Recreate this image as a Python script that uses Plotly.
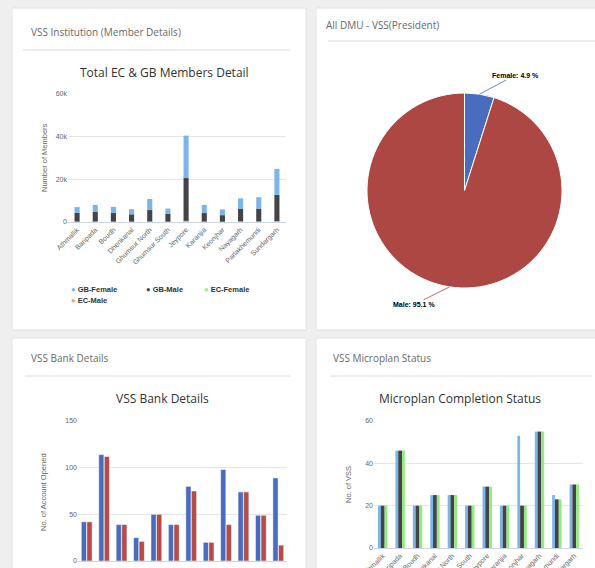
import numpy as np
import plotly.graph_objects as go

W, H = 595, 568

# ---------------- data ----------------
dmus = ["Athmallik", "Baripada", "Boudh", "Dhenkanal", "Ghumsur North", "Ghumsur South",
        "Jeypore", "Karanjia", "Keonjhar", "Nayagarh", "Parlakhemundi", "Sundargarh"]

# Total EC & GB members per DMU
gb_female = [2700, 3100, 2900, 2400, 5200, 2500, 19900, 3800, 2700, 4800, 5300, 12200]
gb_male = [4050, 4630, 3980, 3400, 5330, 3600, 20050, 3960, 3020, 5980, 5980, 12280]
ec_female = [90, 100, 80, 70, 110, 80, 220, 90, 70, 130, 130, 180]
ec_male = [160, 170, 140, 130, 160, 120, 330, 150, 110, 190, 190, 240]
member_ticks = [0, 20000, 40000, 60000]

# VSS presidents by gender (%)
pie_labels = ["Female", "Male"]
pie_values = [4.9, 95.1]

# VSS bank details
bank_vss = [42, 114, 39, 25, 50, 39, 80, 20, 98, 74, 49, 89]
bank_opened = [42, 112, 39, 21, 50, 39, 75, 20, 39, 74, 49, 17]
bank_ticks = [0, 50, 100, 150]

# Microplan completion status
mp_total = [20, 46, 20, 25, 25, 20, 29, 20, 53, 55, 25, 30]
mp_prepared = [20, 46, 20, 25, 25, 20, 29, 20, 20, 55, 23, 30]
mp_approved = [20, 46, 20, 25, 25, 20, 29, 20, 20, 55, 23, 30]
mp_ticks = [0, 20, 40, 60]


def X(px):
    return px / W


def Y(py):
    return 1 - py / H


TICK_FONT = dict(family="Liberation Sans, Arial", size=7, color="#666666")
GRID = "#e6e6e6"
AXLINE = "#ccd6eb"

fig = go.Figure()

# ---------- stacked member columns ----------
stack = [("EC-Male", ec_male, "#f7a35c"),
         ("EC-Female", ec_female, "#90ed7d"),
         ("GB-Male", gb_male, "#434348"),
         ("GB-Female", gb_female, "#7cb5ec")]
base = np.zeros(len(dmus))
for name, vals, col in stack:
    v = np.array(vals, dtype=float)
    fig.add_trace(go.Bar(x=dmus, y=v, base=base.copy(), name=name, marker_color=col,
                         marker_line_width=0, width=0.28, offset=-0.14,
                         xaxis="x", yaxis="y", showlegend=False))
    base += v

# ---------- bank columns ----------
fig.add_trace(go.Bar(x=dmus, y=bank_vss, name="No. of VSS", marker_color="#4a6cbf",
                     marker_line=dict(color="white", width=0.5), width=0.3, offset=-0.31,
                     xaxis="x2", yaxis="y2", showlegend=False))
fig.add_trace(go.Bar(x=dmus, y=bank_opened, name="Account Opened", marker_color="#b24d49",
                     marker_line=dict(color="white", width=0.5), width=0.3, offset=0.01,
                     xaxis="x2", yaxis="y2", showlegend=False))

# ---------- microplan columns ----------
for vals, col, off, wd, name in [(mp_total, "#7cb5ec", -0.27, 0.16, "Total VSS"),
                                 (mp_prepared, "#434348", -0.11, 0.22, "Microplan Prepared"),
                                 (mp_approved, "#90ed7d", 0.11, 0.16, "Microplan Approved")]:
    fig.add_trace(go.Bar(x=dmus, y=vals, name=name, marker_color=col, marker_line_width=0,
                         width=wd, offset=off, xaxis="x3", yaxis="y3", showlegend=False))

# ---------- pie ----------
pie_colors = ["#4a6cbf", "#ad4744"]
pie_x0, pie_x1, pie_y0, pie_y1 = 367, 562, 93, 288
fig.add_trace(go.Pie(labels=pie_labels, values=pie_values, sort=False, direction="clockwise",
                     rotation=0, marker=dict(colors=pie_colors, line=dict(color="white", width=1)),
                     textinfo="none", hoverinfo="label+percent",
                     domain=dict(x=[X(pie_x0), X(pie_x1)], y=[Y(pie_y1), Y(pie_y0)]),
                     showlegend=False))

cat_range = [-0.5, len(dmus) - 0.5]


def xax(dom, show_labels=True):
    return dict(domain=dom, type="category", range=cat_range, showgrid=False, zeroline=False,
                showline=True, linecolor=AXLINE, linewidth=1, ticks="", tickangle=-45,
                tickfont=TICK_FONT, showticklabels=show_labels, automargin=False, fixedrange=True)


def yax(dom, rng, ticks, fmt=None):
    d = dict(domain=dom, range=rng, tickvals=ticks, showgrid=True, gridcolor=GRID, gridwidth=1,
             zeroline=False, showline=False, ticks="", tickfont=TICK_FONT, automargin=False,
             fixedrange=True)
    if fmt:
        d["tickformat"] = fmt
    return d


layout = dict(
    width=W, height=H, margin=dict(l=0, r=0, t=0, b=0),
    paper_bgcolor="#efefef", plot_bgcolor="rgba(0,0,0,0)",
    barmode="overlay", template="none",
    xaxis=xax([X(68), X(286)]),
    yaxis=yax([Y(222), Y(94)], [0, 60000], member_ticks, "~s"),
    xaxis2=xax([X(78), X(287)], show_labels=False),
    yaxis2=yax([Y(561), Y(421)], [0, 150], bank_ticks),
    xaxis3=xax([X(374), X(583)]),
    yaxis3=yax([Y(548), Y(421)], [0, 60], mp_ticks),
)
layout["xaxis2"]["anchor"] = "y2"
layout["yaxis2"]["anchor"] = "x2"
layout["xaxis3"]["anchor"] = "y3"
layout["yaxis3"]["anchor"] = "x3"
fig.update_layout(**layout)

# ---------- panels ----------
shapes = []
panels = [(12, 8, 306, 330), (316, 8, 596, 330), (12, 338, 306, 570), (316, 338, 596, 570)]
for x0, y0, x1, y1 in panels:
    shapes.append(dict(type="rect", xref="paper", yref="paper", x0=X(x0), x1=X(x1),
                       y0=Y(y1), y1=Y(y0), fillcolor="white", line=dict(color="#e2e2e2", width=1),
                       layer="below"))
for x0, x1, yy in [(23, 290, 50), (328, 595, 41), (25, 290, 376), (330, 592, 376)]:
    shapes.append(dict(type="line", xref="paper", yref="paper", x0=X(x0), x1=X(x1),
                       y0=Y(yy), y1=Y(yy), line=dict(color="#dcdcdc", width=1), layer="below"))
fig.update_layout(shapes=shapes)

ann = []
PANEL_FONT = dict(family="Open Sans", size=10, color="#6a6a6a")
TITLE_FONT = dict(family="Open Sans", size=12, color="#333333")
for txt, px, py in [("VSS Institution (Member Details)", 29, 32),
                    ("All DMU - VSS(President)", 324, 25),
                    ("VSS Bank Details", 29, 358),
                    ("VSS Microplan Status", 331, 358)]:
    ann.append(dict(text=txt, x=X(px), y=Y(py), xref="paper", yref="paper", xanchor="left",
                    yanchor="middle", showarrow=False, font=PANEL_FONT))
for txt, px, py in [("Total EC &amp; GB Members Detail", 164, 72),
                    ("VSS Bank Details", 162, 398),
                    ("Microplan Completion Status", 460, 398)]:
    ann.append(dict(text=txt, x=X(px), y=Y(py), xref="paper", yref="paper", xanchor="center",
                    yanchor="middle", showarrow=False, font=TITLE_FONT))

# rotated axis titles
AXT_FONT = dict(family="Liberation Sans, Arial", size=7.5, color="#666666")
for txt, px, py in [("Number of Members", 45, 158),
                    ("No. of Account Opened", 43, 492),
                    ("No. of VSS", 348, 485)]:
    ann.append(dict(text=txt, x=X(px), y=Y(py), xref="paper", yref="paper", textangle=-90,
                    xanchor="center", yanchor="middle", showarrow=False, font=AXT_FONT))

# legend for the stacked member chart
LEG_FONT = dict(family="Liberation Sans, Arial", size=7.5, color="#333333")
legend_items = [(n, c) for n, _, c in reversed(stack)]
legend_pos = [(69, 289), (144, 289), (202, 289), (69, 300)]
for (name, col), (px, py) in zip(legend_items, legend_pos):
    ann.append(dict(text=f'<span style="color:{col}">●</span> <b>{name}</b>', x=X(px), y=Y(py),
                    xref="paper", yref="paper", xanchor="left", yanchor="middle",
                    showarrow=False, font=LEG_FONT))

# pie data labels with connectors, anchored at each slice's mid-angle on the rim
cx, cy = (pie_x0 + pie_x1) / 2, (pie_y0 + pie_y1) / 2
r = (pie_x1 - pie_x0) / 2
vals = np.array(pie_values, dtype=float)
mids = (np.cumsum(vals) - vals / 2) / vals.sum() * 2 * np.pi
offsets = [(36, -19), (-36, 18)]
for lab, v, th, col, (ax, ay) in zip(pie_labels, pie_values, mids, pie_colors, offsets):
    ex, ey = cx + r * np.sin(th), cy - r * np.cos(th)
    ann.append(dict(text=f"<b>{lab}: {v} %</b>", x=X(ex), y=Y(ey), xref="paper", yref="paper",
                    showarrow=True, arrowhead=0, arrowwidth=0.8, arrowcolor=col, ax=ax, ay=ay,
                    font=dict(family="Liberation Sans, Arial", size=7, color="#000000")))

fig.update_layout(annotations=ann)

fig.write_html("out.html")
